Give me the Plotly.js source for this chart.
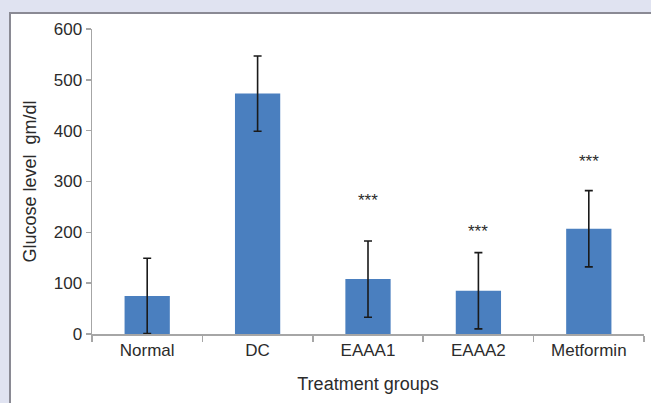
<!DOCTYPE html>
<html>
<head>
<meta charset="utf-8">
<script src="https://cdn.plot.ly/plotly-3.0.1.min.js"></script>
<style>html,body{margin:0;padding:0;background:#e0e3f1;}#chart{width:651px;height:403px;}</style>
</head>
<body>
<div id="chart"></div>
<script>
const categories = ["Normal", "DC", "EAAA1", "EAAA2", "Metformin"];
const glucose = [75, 473, 108, 85, 207];
const sdError = [74, 74, 75, 75, 75];
const sigLabels = ["", "", "***", "***", "***"];
const sigY = [0, 0, 262, 201, 340];
const yTicks = [0, 100, 200, 300, 400, 500, 600];

const font = "'Liberation Sans', Arial, sans-serif";
const textColor = "#2b2b2b";
const axisColor = "#a6a6a6";

const annotations = [];
categories.forEach((c, i) => {
  if (sigLabels[i]) {
    annotations.push({
      x: c, y: sigY[i], xref: "x", yref: "y",
      text: sigLabels[i], showarrow: false,
      font: {family: font, size: 17, color: textColor}
    });
  }
});

const trace = {
  type: "bar",
  x: categories,
  y: glucose,
  width: 0.41,
  marker: {color: "#4a7fbf"},
  error_y: {type: "data", array: sdError, visible: true, color: "#1a1a1a", thickness: 1.6, width: 4},
  hoverinfo: "x+y"
};

const layout = {
  width: 651, height: 403,
  margin: {l: 92, r: 7, t: 29, b: 69},
  paper_bgcolor: "#e0e3f1",
  plot_bgcolor: "#ffffff",
  showlegend: false,
  font: {family: font, color: textColor, size: 17},
  xaxis: {
    type: "category",
    showline: true, linecolor: axisColor, linewidth: 1.5,
    ticks: "outside", tickson: "boundaries", ticklen: 6, tickcolor: axisColor, tickwidth: 1.5,
    showgrid: false, zeroline: false,
    tickfont: {family: font, size: 17, color: textColor},
    title: {text: "Treatment groups", font: {family: font, size: 18, color: textColor}, standoff: 18},
    automargin: false
  },
  yaxis: {
    range: [0, 600], tickvals: yTicks, ticktext: yTicks.map(String),
    showline: true, linecolor: axisColor, linewidth: 1.5,
    ticks: "outside", ticklen: 5, tickcolor: axisColor, tickwidth: 1.5,
    showgrid: false, zeroline: false,
    tickfont: {family: font, size: 17, color: textColor},
    title: {text: "Glucose level  gm/dl", font: {family: font, size: 18, color: textColor}, standoff: 12},
    automargin: false
  },
  shapes: [{
    type: "rect", xref: "paper", yref: "paper", layer: "below",
    x0: (10 - 92) / 552, x1: (670 - 92) / 552,
    y0: (334 - 420) / 305, y1: (334 - 13) / 305,
    fillcolor: "#ffffff", line: {color: "#8a8a94", width: 2}
  }],
  annotations: annotations
};

Plotly.newPlot("chart", [trace], layout, {displayModeBar: false, staticPlot: true});
</script>
</body>
</html>
